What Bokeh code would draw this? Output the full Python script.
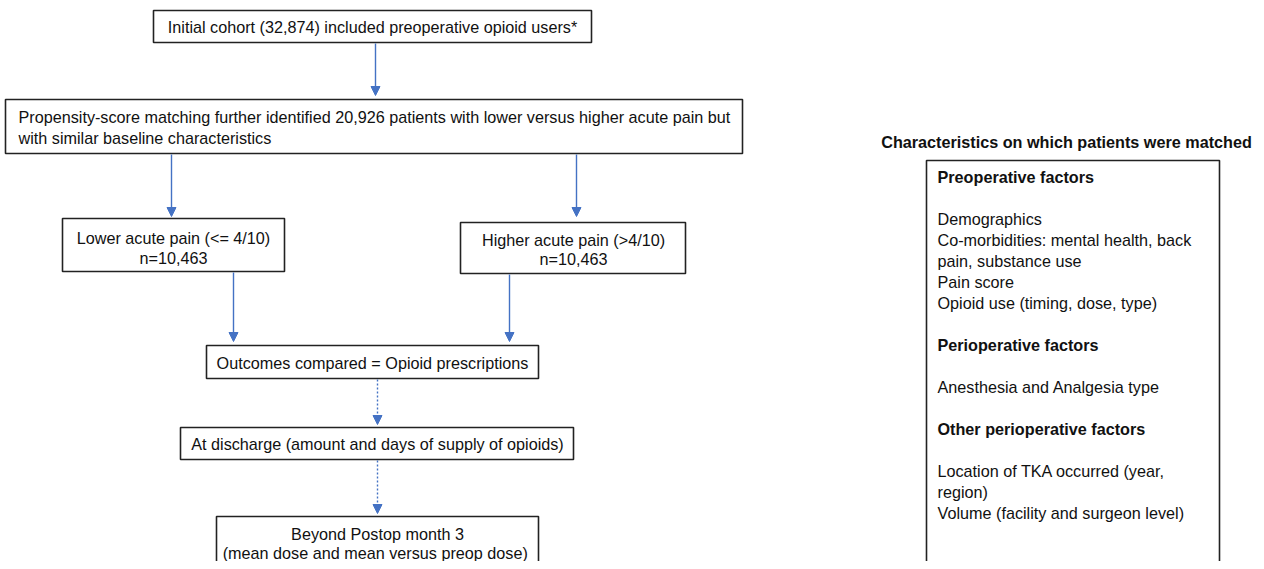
from bokeh.plotting import figure
from bokeh.models import Range1d, Arrow, NormalHead
from bokeh.core.properties import value
from bokeh.embed import file_html
from bokeh.resources import INLINE

# ---- content ----
initial_text = ["Initial cohort (32,874) included preoperative opioid users*"]
psm_text = ["Propensity-score matching further identified 20,926 patients with lower versus higher acute pain but",
            "with similar baseline characteristics"]
lower_text = ["Lower acute pain (<= 4/10)", "n=10,463"]
higher_text = ["Higher acute pain (>4/10)", "n=10,463"]
outcome_text = ["Outcomes compared = Opioid prescriptions"]
discharge_text = ["At discharge (amount and days of supply of opioids)"]
beyond_text = ["Beyond Postop month 3", " (mean dose and mean versus preop dose)"]
panel_title = "Characteristics on which patients were matched"
panel_lines = ["Preoperative factors", "", "Demographics", "Co-morbidities: mental health, back",
               "pain, substance use", "Pain score", "Opioid use (timing, dose, type)", "",
               "Perioperative factors", "", "Anesthesia and Analgesia type", "",
               "Other perioperative factors", "", "Location of TKA occurred (year,",
               "region)", "Volume (facility and surgeon level)"]
panel_bold = [True, False, False, False, False, False, False, False,
              True, False, False, False, True, False, False, False, False]

FONT = "Liberation Sans"
FS = "16.2px"
BLUE = "#4472C4"
EDGE = "#222222"

p = figure(width=1256, height=561, output_backend="svg", toolbar_location=None,
           x_range=Range1d(0, 1256), y_range=Range1d(561, 0), min_border=0)
p.axis.visible = False
p.grid.visible = False
p.outline_line_color = None
p.background_fill_color = "white"
p.border_fill_color = "white"

def box(l, r, t, b):
    p.quad(left=[l], right=[r], top=[t], bottom=[b], fill_color="white",
           line_color=EDGE, line_width=1.6)

def lines_centered(lines, cx, y0, dy=20.5):
    p.text(x=[cx] * len(lines), y=[y0 + i * dy for i in range(len(lines))], text=lines,
           text_font=value(FONT), text_font_size=FS, text_align="center",
           text_baseline="middle", text_color="#111111")

def arrow(x, y0, y1, dotted=False):
    p.add_layout(Arrow(end=NormalHead(size=9, fill_color=BLUE, line_color=BLUE, line_width=1),
                       x_start=x, y_start=y0, x_end=x, y_end=y1,
                       line_color=BLUE, line_width=1.4,
                       line_dash="2 2" if dotted else "solid"))

# boxes
box(153, 591, 10, 42)
box(5, 742, 99, 153)
box(62, 284, 218, 271)
box(460, 685, 222, 273)
box(206, 538, 345, 378)
box(180, 573, 427, 459)
box(216, 538, 516, 580)
box(926, 1219, 160, 580)

# arrows
arrow(375, 43, 95)
arrow(171, 154, 216)
arrow(576, 154, 216)
arrow(233, 272, 341)
arrow(509, 274, 341)
arrow(377, 379, 424, dotted=True)
arrow(377, 460, 513, dotted=True)

# texts
lines_centered(initial_text, 372, 26)
p.text(x=[18, 18], y=[116, 137], text=psm_text, text_font=value(FONT), text_font_size=FS,
       text_align="left", text_baseline="middle", text_color="#111111")
lines_centered(lower_text, 173, 237, 20)
lines_centered(higher_text, 573, 239, 19)
lines_centered(outcome_text, 372, 362)
lines_centered(discharge_text, 377, 443)
lines_centered(beyond_text, 377, 533, 19)

p.text(x=[1066], y=[141], text=[panel_title], text_font=value(FONT), text_font_size=FS,
       text_font_style="bold", text_align="center", text_baseline="middle", text_color="#111111")

ys = [176 + i * 21 for i in range(len(panel_lines))]
nb = [(y, t) for y, t, b in zip(ys, panel_lines, panel_bold) if t and not b]
bd = [(y, t) for y, t, b in zip(ys, panel_lines, panel_bold) if t and b]
p.text(x=[937] * len(nb), y=[y for y, _ in nb], text=[t for _, t in nb], text_font=value(FONT),
       text_font_size=FS, text_align="left", text_baseline="middle", text_color="#111111")
p.text(x=[937] * len(bd), y=[y for y, _ in bd], text=[t for _, t in bd], text_font=value(FONT),
       text_font_size=FS, text_font_style="bold", text_align="left", text_baseline="middle",
       text_color="#111111")

open("out.html", "w").write(file_html(p, INLINE))
